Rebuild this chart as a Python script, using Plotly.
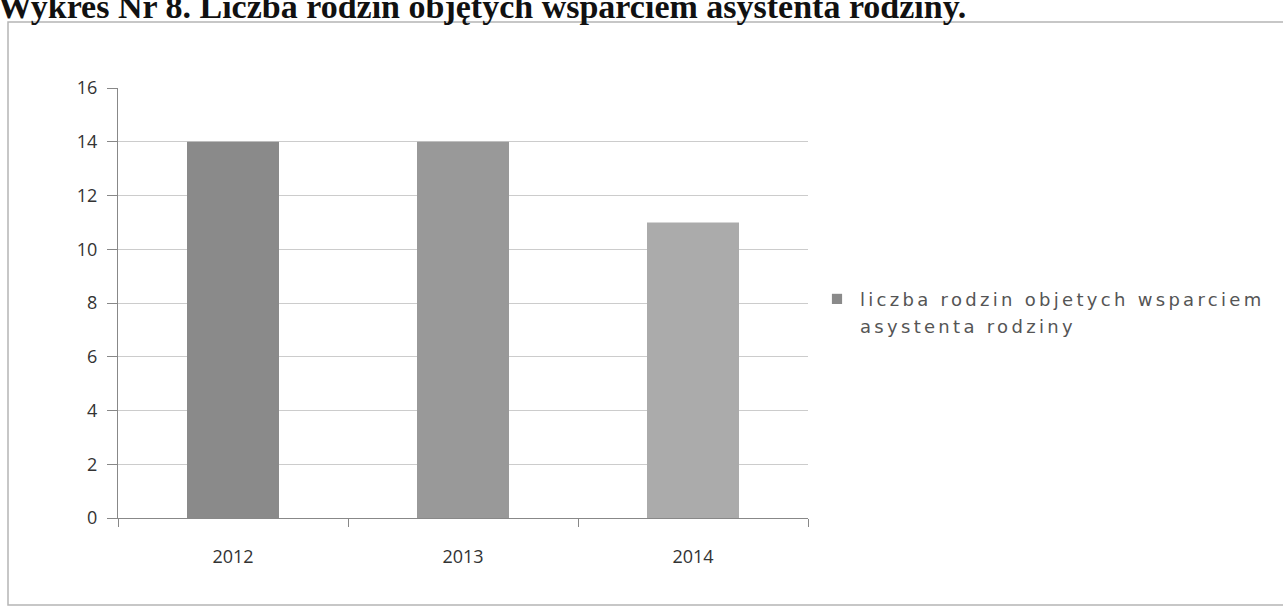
import plotly.graph_objects as go

categories = ["2012", "2013", "2014"]
values = [14, 14, 11]
series_name = "liczba rodzin objetych wsparciem<br>asystenta rodziny"
bar_colors = ["#8a8a8a", "#999999", "#ababab"]
title_text = "Wykres Nr 8. Liczba rodzin objętych wsparciem asystenta rodziny."

L, R, T, B = 118, 475, 88, 90
W, H = 1283, 608
pw, ph = W - L - R, H - T - B

def px_x(x):
    return (x - L) / pw

def px_y(y):
    return (H - B - y) / ph

fig = go.Figure()
fig.add_trace(go.Bar(
    x=categories, y=values, name=series_name,
    marker=dict(color=bar_colors, line=dict(width=0)),
    width=0.4, showlegend=True,
))

fig.update_layout(
    width=W, height=H,
    margin=dict(l=L, r=R, t=T, b=B),
    paper_bgcolor="white", plot_bgcolor="white",
    font=dict(family="Open Sans, Liberation Sans, sans-serif", size=18, color="#333333"),
    showlegend=True,
    legend=dict(x=px_x(820), y=px_y(311), xanchor="left", yanchor="middle",
                font=dict(family="DejaVu Sans, sans-serif", size=18, color="#555555"),
                bgcolor="rgba(0,0,0,0)", itemwidth=30, tracegroupgap=0),
    xaxis=dict(showline=True, linecolor="#888888", ticks="outside", tickson="boundaries",
               ticklen=8, tickcolor="#888888", showgrid=False, ticklabelstandoff=22,
               tickfont=dict(size=18, color="#333333")),
    yaxis=dict(range=[0, 16], dtick=2, showline=True, linecolor="#888888",
               ticks="outside", ticklen=10, tickcolor="#888888", ticklabelstandoff=6,
               showgrid=True, gridcolor="#cccccc", gridwidth=1,
               tickfont=dict(size=18, color="#333333"), zeroline=False),
    shapes=[dict(type="rect", xref="paper", yref="paper",
                 x0=px_x(8), x1=px_x(1295), y0=px_y(605), y1=px_y(22),
                 line=dict(color="#b5b5b5", width=1.5), fillcolor="rgba(0,0,0,0)", layer="below")],
    annotations=[dict(text="<b>" + title_text + "</b>", xref="paper", yref="paper",
                      x=px_x(-4), y=px_y(6), xanchor="left", yanchor="middle",
                      showarrow=False,
                      font=dict(family="Liberation Serif, Times New Roman, serif",
                                size=34, color="#111111"))],
)

post = """
document.body.style.margin='0';
document.querySelectorAll('.legendtext').forEach(function(e){
  e.style.letterSpacing='3.3px';
  e.querySelectorAll('tspan.line').forEach(function(t, i){ if(i>0){ t.setAttribute('dy', '1.5em'); } });
});
document.querySelectorAll('.legend, .legend *').forEach(function(e){ e.removeAttribute('clip-path'); });
document.querySelectorAll('.legendpoints').forEach(function(e){ e.setAttribute('transform', 'translate(0,-12) scale(0.85)'); });
"""
fig.write_html("out.html", post_script=post, config={"displayModeBar": False})
